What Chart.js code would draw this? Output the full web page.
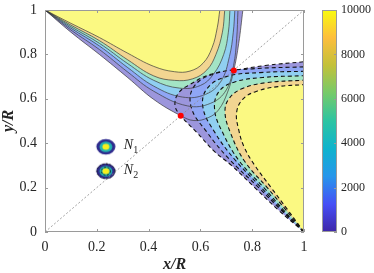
<!DOCTYPE html>
<html>
<head>
<meta charset="utf-8">
<script src="https://cdn.jsdelivr.net/npm/chart.js@4.4.1/dist/chart.umd.min.js"></script>
<style>
  body { margin: 0; background: #fff; }
  #wrap { width: 374px; height: 273px; }
</style>
</head>
<body>
<div id="wrap"><canvas id="field"></canvas></div>
<script>
// tick values
const axisTicks = [0, 0.2, 0.4, 0.6, 0.8, 1];
const barTicks = [0, 2000, 4000, 6000, 8000, 10000];
const barRange = [0, 10000];

// upper-left lobe, contour edges from the outer one (purple) to the inner one (yellow)
const upperEdge0 = [[0, 1], [0.1, 0.9], [0.21, 0.80], [0.32, 0.695], [0.42, 0.597], [0.524, 0.524], [0.575, 0.502], [0.63, 0.515], [0.67, 0.55], [0.705, 0.63], [0.729, 0.728], [0.748, 0.85], [0.764, 1]];
const upperEdge1 = [[0, 1], [0.1, 0.91], [0.21, 0.822], [0.32, 0.72], [0.42, 0.634], [0.55, 0.568], [0.64, 0.58], [0.7, 0.64], [0.728, 0.75], [0.74, 0.87], [0.745, 1]];
const upperEdge2 = [[0, 1], [0.1, 0.918], [0.21, 0.838], [0.32, 0.74], [0.42, 0.657], [0.53, 0.608], [0.62, 0.62], [0.68, 0.68], [0.712, 0.79], [0.727, 0.9], [0.733, 1]];
const upperEdge3 = [[0, 1], [0.1, 0.925], [0.21, 0.85], [0.32, 0.758], [0.42, 0.683], [0.52, 0.648], [0.6, 0.66], [0.65, 0.71], [0.69, 0.8], [0.708, 0.9], [0.714, 1]];
const upperEdge4 = [[0, 1], [0.1, 0.932], [0.21, 0.862], [0.32, 0.775], [0.42, 0.703], [0.5, 0.683], [0.57, 0.69], [0.625, 0.73], [0.66, 0.8], [0.685, 0.9], [0.694, 1]];
const upperEdge5 = [[0, 1], [0.1, 0.94], [0.21, 0.876], [0.32, 0.805], [0.42, 0.746], [0.5, 0.722], [0.56, 0.725], [0.61, 0.76], [0.645, 0.83], [0.665, 0.92], [0.675, 1]];

// lower-right lobe (dashed contours), same order
const lowerEdge0 = [[1, 0], [0.9, 0.1], [0.81, 0.2], [0.72, 0.3], [0.655, 0.362], [0.585, 0.45], [0.524, 0.524], [0.502, 0.57], [0.515, 0.625], [0.56, 0.665], [0.64, 0.71], [0.729, 0.728], [0.85, 0.75], [1, 0.767]];
const lowerEdge1 = [[1, 0], [0.91, 0.1], [0.825, 0.2], [0.71, 0.33], [0.625, 0.45], [0.565, 0.56], [0.575, 0.655], [0.66, 0.715], [0.8, 0.735], [1, 0.744]];
const lowerEdge2 = [[1, 0], [0.915, 0.1], [0.835, 0.2], [0.73, 0.33], [0.655, 0.45], [0.61, 0.56], [0.625, 0.645], [0.7, 0.7], [0.83, 0.718], [1, 0.724]];
const lowerEdge3 = [[1, 0], [0.92, 0.1], [0.845, 0.2], [0.75, 0.32], [0.685, 0.45], [0.655, 0.55], [0.67, 0.63], [0.73, 0.675], [0.84, 0.696], [1, 0.704]];
const lowerEdge4 = [[1, 0], [0.93, 0.1], [0.858, 0.2], [0.77, 0.32], [0.715, 0.45], [0.695, 0.54], [0.71, 0.6], [0.76, 0.645], [0.85, 0.672], [1, 0.684]];
const lowerEdge5 = [[1, 0], [0.937, 0.1], [0.873, 0.2], [0.81, 0.3], [0.77, 0.38], [0.748, 0.46], [0.74, 0.54], [0.765, 0.6], [0.82, 0.635], [0.9, 0.655], [1, 0.664]];

const diagonal = [[0, 0], [1, 1]];
const saddles = [[0.524, 0.524], [0.729, 0.728]];
const peaks = [[0.235, 0.384], [0.235, 0.274]];
const peakNames = ['1', '2'];

// band colours, outer to inner
const bandColors = ['#9c96dc', '#8fa6f5', '#90cff1', '#a3e4c5', '#f2d591', '#fbf982'];
const parula = ['#3e26a8', '#464ff6', '#2796eb', '#0fb3cd', '#2cc4a2', '#75ca6a', '#c2c13a', '#fdbe3d', '#f9fb0e'];

const serif = "'Liberation Serif', 'DejaVu Serif', serif";
Chart.defaults.font.family = serif;
Chart.defaults.color = '#262626';

const xy = arr => arr.map(([x, y]) => ({ x, y }));

const upperEdges = [upperEdge0, upperEdge1, upperEdge2, upperEdge3, upperEdge4, upperEdge5];
const lowerEdges = [lowerEdge0, lowerEdge1, lowerEdge2, lowerEdge3, lowerEdge4, lowerEdge5];

function makePeak(dashed) {
    const c = document.createElement('canvas');
    c.width = 22;
    c.height = 19;
    const g = c.getContext('2d');
    const ell = (rx, ry, color) => {
        g.beginPath();
        g.ellipse(11, 9.5, rx, ry, 0, 0, Math.PI * 2);
        g.fillStyle = color;
        g.fill();
    };
    ell(9.5, 7.8, '#2f2b8e');
    ell(6.4, 5.3, '#22b3b1');
    ell(3.5, 3, '#f7f01e');
    if (dashed) {
        g.strokeStyle = '#111';
        g.lineWidth = 1;
        g.setLineDash([2, 1.5]);
        g.beginPath();
        g.ellipse(11, 9.5, 9, 7.4, 0, 0, Math.PI * 2);
        g.stroke();
        g.beginPath();
        g.ellipse(11, 9.5, 4.5, 3.9, 0, 0, Math.PI * 2);
        g.stroke();
    }
    return c;
}

const datasets = [];

// saddle points
datasets.push({
    data: xy(saddles),
    showLine: false,
    pointRadius: 3,
    pointBackgroundColor: '#ff0000',
    pointBorderWidth: 0
});

// y = x guide
datasets.push({
    data: xy(diagonal),
    borderColor: '#8a8a8a',
    borderWidth: 0.8,
    borderDash: [2, 2],
    pointRadius: 0,
    fill: false
});

// two small peaks
datasets.push({
    data: xy(peaks),
    showLine: false,
    pointStyle: [makePeak(false), makePeak(true)],
    pointRadius: 9
});

// solid contour lines of the upper lobe, above everything else
upperEdges.forEach(edge => {
    datasets.push({
        data: xy(edge),
        borderColor: '#3a3a3a',
        borderWidth: 0.7,
        pointRadius: 0,
        tension: 0.4,
        fill: false
    });
});

// lower lobe bands, inner first so it stays on top
for (let k = 5; k >= 0; k--) {
    datasets.push({
        data: xy(lowerEdges[k]),
        backgroundColor: bandColors[k],
        borderColor: '#111',
        borderWidth: 1.1,
        borderDash: [4, 3],
        pointRadius: 0,
        tension: 0.4,
        fill: 'shape'
    });
}

// upper lobe bands
for (let k = 5; k >= 0; k--) {
    datasets.push({
        data: xy(upperEdges[k]),
        backgroundColor: bandColors[k],
        borderWidth: 0,
        pointRadius: 0,
        tension: 0.4,
        fill: 'shape'
    });
}

const setTicks = values => scale => {
    scale.ticks = values.map(v => ({ value: v }));
};

// fixed box sizes, and no extra room for the end labels
const fitTo = (w, h) => scale => {
    if (w) scale.width = w;
    if (h) scale.height = h;
    scale.paddingTop = 0;
    scale.paddingBottom = 0;
    scale.paddingLeft = 0;
    scale.paddingRight = 0;
};

const framePlugin = {
    id: 'frame',
    afterDatasetsDraw(chart) {
        const { ctx, chartArea: a, scales: { x, y } } = chart;
        ctx.save();
        ctx.strokeStyle = '#9a9a9a';
        ctx.lineWidth = 1;
        ctx.strokeRect(a.left + 0.5, a.top + 0.5, a.width - 1, a.height - 1);
        ctx.beginPath();
        axisTicks.forEach(v => {
            const px = Math.round(x.getPixelForValue(v)) + 0.5;
            ctx.moveTo(px, a.bottom);
            ctx.lineTo(px, a.bottom - 3);
            ctx.moveTo(px, a.top);
            ctx.lineTo(px, a.top + 3);
            const py = Math.round(y.getPixelForValue(v)) + 0.5;
            ctx.moveTo(a.left, py);
            ctx.lineTo(a.left + 3, py);
            ctx.moveTo(a.right, py);
            ctx.lineTo(a.right - 3, py);
        });
        ctx.stroke();

        // N1 / N2 labels
        peaks.forEach(([vx, vy], i) => {
            const px = x.getPixelForValue(vx) + 18;
            const py = y.getPixelForValue(vy);
            ctx.fillStyle = '#262626';
            ctx.textBaseline = 'middle';
            ctx.font = 'italic 14px ' + serif;
            ctx.fillText('N', px, py - 1);
            const w = ctx.measureText('N').width;
            ctx.font = '10px ' + serif;
            ctx.fillText(peakNames[i], px + w, py + 4);
        });
        ctx.restore();
    },
    afterDraw(chart) {
        const { ctx } = chart;
        const cb = chart.scales.cb;
        const top = cb.getPixelForValue(barRange[1]);
        const bottom = cb.getPixelForValue(barRange[0]);
        const left = cb.left + 18;
        const width = 15;
        ctx.save();
        const grad = ctx.createLinearGradient(0, bottom, 0, top);
        parula.forEach((c, i) => grad.addColorStop(i / (parula.length - 1), c));
        ctx.fillStyle = grad;
        ctx.fillRect(left, top, width, bottom - top);
        ctx.strokeStyle = '#9a9a9a';
        ctx.lineWidth = 1;
        ctx.strokeRect(left + 0.5, top + 0.5, width - 1, bottom - top - 1);
        ctx.beginPath();
        barTicks.forEach(v => {
            const py = Math.round(cb.getPixelForValue(v)) + 0.5;
            ctx.moveTo(left + width, py);
            ctx.lineTo(left + width - 3, py);
        });
        ctx.stroke();
        ctx.restore();
    }
};

new Chart(document.getElementById('field'), {
    type: 'line',
    data: { datasets },
    options: {
        responsive: true,
        maintainAspectRatio: false,
        animation: false,
        events: [],
        layout: { padding: { top: 5, right: 0, left: 0, bottom: 0 } },
        plugins: {
            legend: { display: false },
            tooltip: { enabled: false }
        },
        scales: {
            x: {
                type: 'linear',
                min: 0,
                max: 1,
                afterBuildTicks: setTicks(axisTicks),
                afterFit: fitTo(0, 41),
                grid: { display: false, drawTicks: false },
                border: { display: false },
                ticks: { padding: 7, font: { size: 14 }, maxRotation: 0, autoSkip: false, callback: v => String(v) },
                title: {
                    display: true,
                    text: 'x/R',
                    font: { size: 16, style: 'italic', weight: 'bold', lineHeight: 1 },
                    padding: { top: 0, bottom: 0 }
                }
            },
            y: {
                type: 'linear',
                position: 'left',
                min: 0,
                max: 1,
                afterBuildTicks: setTicks(axisTicks),
                afterFit: fitTo(45, 0),
                grid: { display: false, drawTicks: false },
                border: { display: false },
                ticks: { padding: 8, font: { size: 14 }, autoSkip: false, callback: v => String(v) },
                title: {
                    display: true,
                    text: 'y/R',
                    font: { size: 16, style: 'italic', weight: 'bold', lineHeight: 1 },
                    padding: { top: 1, bottom: 0 }
                }
            },
            cb: {
                type: 'linear',
                position: 'right',
                min: barRange[0],
                max: barRange[1],
                afterBuildTicks: setTicks(barTicks),
                afterFit: fitTo(70, 0),
                grid: { display: false, drawTicks: false },
                border: { display: false },
                ticks: { padding: 37, font: { size: 12 }, autoSkip: false, callback: v => String(v) }
            }
        }
    },
    plugins: [framePlugin]
});
</script>
</body>
</html>
